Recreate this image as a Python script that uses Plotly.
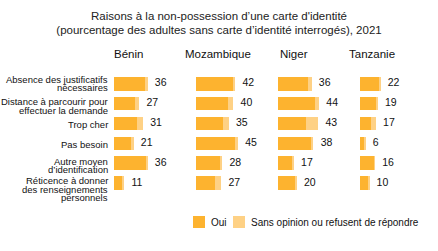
import plotly.graph_objects as go

countries = ["Bénin", "Mozambique", "Niger", "Tanzanie"]
reasons = [
    "Absence des justificatifs nécessaires",
    "Distance à parcourir pour effectuer la demande",
    "Trop cher",
    "Pas besoin",
    "Autre moyen d’identification",
    "Réticence à donner des renseignements personnels",
]
reason_lines = [
    ["Absence des justificatifs", "nécessaires"],
    ["Distance à parcourir pour", "effectuer la demande"],
    ["Trop cher"],
    ["Pas besoin"],
    ["Autre moyen", "d’identification"],
    ["Réticence à donner", "des renseignements", "personnels"],
]
totals = {
    "Bénin": [36, 27, 31, 21, 36, 11],
    "Mozambique": [42, 40, 35, 45, 28, 27],
    "Niger": [36, 44, 43, 38, 17, 20],
    "Tanzanie": [22, 19, 17, 6, 16, 10],
}
oui = {
    "Bénin": [34, 23, 25, 19, 35, 9],
    "Mozambique": [40, 34, 29, 42, 25.5, 20],
    "Niger": [32, 40, 30, 35, 14.5, 19],
    "Tanzanie": [21, 17.5, 12, 5, 15, 9],
}
sans_opinion = {c: [t - o for t, o in zip(totals[c], oui[c])] for c in countries}
legend_labels = ["Oui", "Sans opinion ou refusent de répondre"]

C_OUI = "#FDB32F"
C_SANS = "#FED185"
FONT = "Liberation Sans, Arial, sans-serif"
TXT = "#111111"

W, H = 438, 251
bar_starts = [114, 196, 278, 360]
panel_w = 70
title_centers = [128, 218, 294, 372]
xmax = 75

fig = go.Figure()
for i, c in enumerate(countries):
    xa = "x" if i == 0 else f"x{i+1}"
    fig.add_trace(go.Bar(
        y=reasons, x=oui[c], orientation="h", marker_color=C_OUI, marker_line_width=0,
        name=legend_labels[0], showlegend=False, xaxis=xa, yaxis="y",
        hoverinfo="skip", width=0.68))
    fig.add_trace(go.Bar(
        y=reasons, x=sans_opinion[c], orientation="h", marker_color=C_SANS, marker_line_width=0,
        name=legend_labels[1], showlegend=False,
        xaxis=xa, yaxis="y", hoverinfo="skip", width=0.68))
    fig.add_trace(go.Scatter(
        y=reasons, x=totals[c], mode="markers+text", text=[str(v) for v in totals[c]],
        textposition="middle right", marker=dict(size=10, opacity=0),
        textfont=dict(size=10.5, color=TXT, family=FONT),
        showlegend=False, xaxis=xa, yaxis="y", hoverinfo="skip", cliponaxis=False))
    fig.add_annotation(x=title_centers[i] / W, y=1 - 54 / H, xref="paper", yref="paper",
                       text=c, showarrow=False, font=dict(size=11.5, color=TXT, family=FONT),
                       xanchor="center", yanchor="middle")

# category labels (tight line spacing)
line_gap = 8.5
first_offsets = [-4.5, -2, 0, 0, -2, -2]
for r, lines, off in zip(reasons, reason_lines, first_offsets):
    for k, ln in enumerate(lines):
        fig.add_annotation(x=110 / W, xref="paper", y=r, yref="y", text=ln,
                           showarrow=False, xanchor="right", yanchor="middle",
                           yshift=-(off + k * line_gap) if len(lines) > 1 else -1,
                           font=dict(size=9.5, color=TXT, family=FONT))

# legend (drawn manually for compact spacing)
leg_y = 1 - 222 / H
for x0, col, lab in [(193, C_OUI, legend_labels[0]), (233, C_SANS, legend_labels[1])]:
    fig.add_shape(type="rect", xref="paper", yref="paper",
                  x0=x0 / W, x1=(x0 + 12) / W, y0=leg_y - 6 / H, y1=leg_y + 6 / H,
                  fillcolor=col, line_width=0)
    fig.add_annotation(x=(x0 + 16) / W, xref="paper", y=leg_y, yref="paper", text=lab,
                       showarrow=False, xanchor="left", yanchor="middle",
                       font=dict(size=10, color=TXT, family=FONT))

layout_axes = {}
for i in range(4):
    key = "xaxis" if i == 0 else f"xaxis{i+1}"
    layout_axes[key] = dict(
        domain=[bar_starts[i] / W, (bar_starts[i] + panel_w) / W], range=[0, xmax],
        showgrid=False, zeroline=False, showticklabels=False, showline=False,
        anchor="y", fixedrange=True)

fig.update_layout(
    **layout_axes,
    yaxis=dict(domain=[1 - 195.4 / H, 1 - 71.3 / H], categoryorder="array",
               categoryarray=reasons, autorange="reversed", showgrid=False,
               zeroline=False, showline=False, ticks="", showticklabels=False,
               automargin=False, fixedrange=True),
    barmode="stack",
    showlegend=False,
    width=W, height=H,
    margin=dict(l=0, r=0, t=0, b=0),
    paper_bgcolor="white", plot_bgcolor="white",
    font=dict(family=FONT, color=TXT),
    title=dict(text="Raisons à la non-possession d’une carte d'identité<br>(pourcentage des adultes sans carte d’identité interrogés), 2021",
               x=0.5, xanchor="center", y=1 - 19.5 / H, yanchor="middle",
               font=dict(size=11.5, color="#222", family=FONT)),
)

fig.write_html("out.html")
